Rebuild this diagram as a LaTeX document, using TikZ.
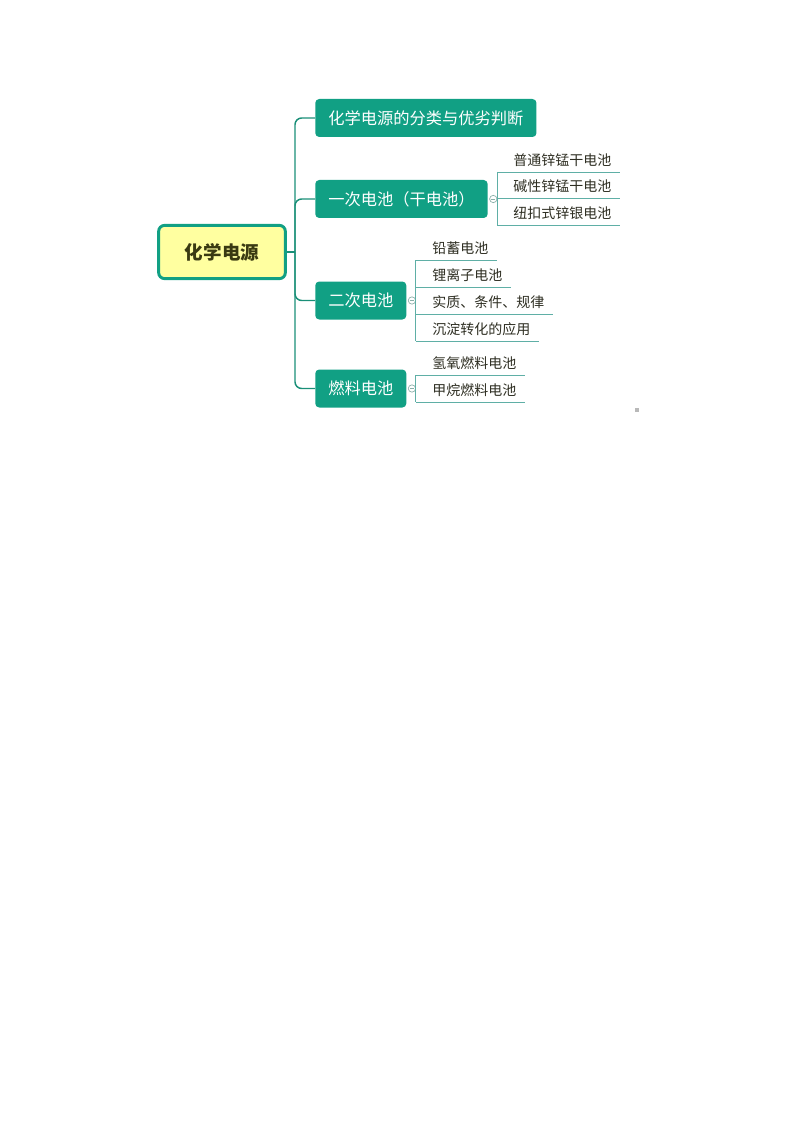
\documentclass[tikz,border=0pt]{standalone}
\usepackage{fontspec}
\setmainfont{Noto Sans CJK SC}
\usetikzlibrary{positioning}
\definecolor{mapteal}{HTML}{11A084}
\definecolor{lineteal}{HTML}{1A8F78}
\definecolor{twigteal}{HTML}{5FAFA6}
\definecolor{rootfill}{HTML}{FFFFA0}
\definecolor{roottext}{HTML}{3A3A12}
\definecolor{leaftext}{HTML}{2E2E22}
\definecolor{foldgray}{HTML}{8AAFA8}
\begin{document}
\begin{tikzpicture}[x=0.75pt, y=-0.75pt,
		root/.style={draw=mapteal, line width=2.2pt, fill=rootfill, rounded corners=4.5pt,
			minimum width=95pt, minimum height=40pt, text=roottext,
			font=\fontsize{13.9}{16}\selectfont\bfseries},
		branch/.style={fill=mapteal, text=white, rounded corners=3pt, anchor=west,
			minimum height=28.5pt, inner xsep=9.75pt, font=\fontsize{12.2}{14}\selectfont},
		leaf/.style={anchor=south west, inner xsep=0pt, inner ysep=5pt, text depth=0pt,
			text=leaftext, font=\fontsize{10.5}{12}\selectfont},
		fold/.style={circle, draw=foldgray, fill=white, line width=0.5pt, inner sep=0pt,
			minimum size=5.5pt, path picture={\draw[foldgray, line width=0.4pt]
				([xshift=-1.4pt]path picture bounding box.center) --
				([xshift=1.4pt]path picture bounding box.center);}},
		mainline/.style={draw=lineteal, line width=1.1pt},
		twig/.style={draw=twigteal, line width=0.7pt}]
		\useasboundingbox (0,0) rectangle (794,1123);
		
		\node[root] (root) at (222,252) {化学电源};
		\coordinate (hub) at (295,252);
		
		\node[branch] (kinds) at (315,118) {化学电源的分类与优劣判断};
		\node[branch] (primary) at (315,199) {一次电池（干电池）};
		\node[branch] (secondary) at (315,300.5) {二次电池};
		\node[branch] (fuel) at (315,388.5) {燃料电池};
		
		\node[leaf] (zinc) at (513,172) {普通锌锰干电池};
		\node[leaf] (alkaline) at (513,198.5) {碱性锌锰干电池};
		\node[leaf] (button) at (513,225) {纽扣式锌银电池};
		\node[leaf] (lead) at (432,260) {铅蓄电池};
		\node[leaf] (lithium) at (432,287) {锂离子电池};
		\node[leaf] (essence) at (432,314) {实质、条件、规律};
		\node[leaf] (precip) at (432,341) {沉淀转化的应用};
		\node[leaf] (hydrogen) at (432,375) {氢氧燃料电池};
		\node[leaf] (methane) at (432,402) {甲烷燃料电池};
		
		\draw[mainline] (root) -- (hub);
		\foreach \b in {kinds,primary,secondary,fuel}
			\draw[mainline, rounded corners=5pt] (hub) |- (\b.west);
		
		\node[fold, right=1pt of primary] (fprimary) {};
		\node[fold, right=1pt of secondary] (fsecondary) {};
		\node[fold, right=1pt of fuel] (ffuel) {};
		
		\draw[twig] (fprimary.east |- zinc.south) -- (fprimary.east |- button.south);
		\foreach \l in {zinc,alkaline,button}
			\draw[twig] (fprimary.east |- \l.south) -- ([xshift=6pt]\l.south east);
		\draw[twig] (fsecondary.east |- lead.south) -- (fsecondary.east |- precip.south);
		\foreach \l in {lead,lithium,essence,precip}
			\draw[twig] (fsecondary.east |- \l.south) -- ([xshift=6pt]\l.south east);
		\draw[twig] (ffuel.east |- hydrogen.south) -- (ffuel.east |- methane.south);
		\foreach \l in {hydrogen,methane}
			\draw[twig] (ffuel.east |- \l.south) -- ([xshift=6pt]\l.south east);
		
		\node[fill=gray!55, minimum size=3.5pt, inner sep=0pt] (mark) at (637,410) {};
\end{tikzpicture}
\end{document}
